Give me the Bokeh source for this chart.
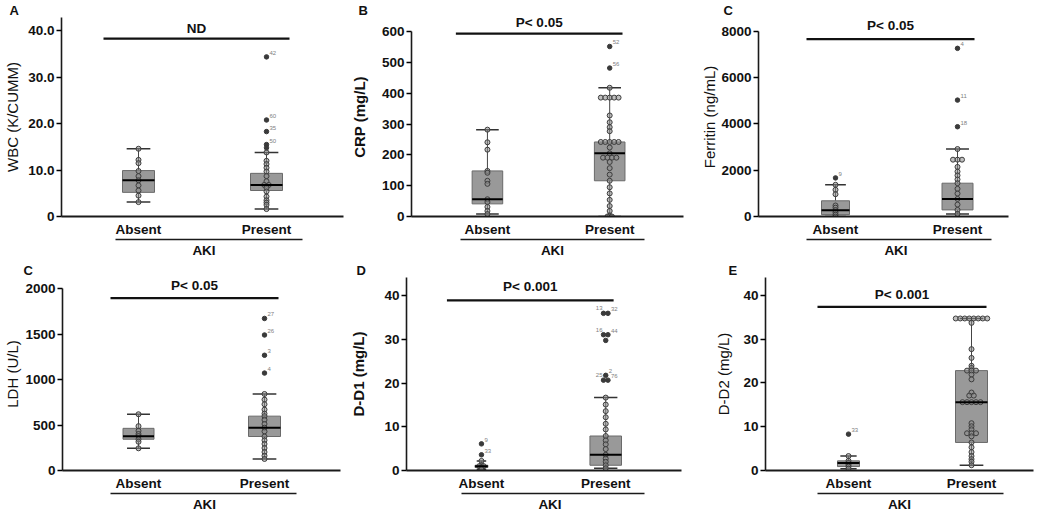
from bokeh.plotting import figure
from bokeh.layouts import row, column
from bokeh.models import Range1d, LinearAxis, FixedTicker, ColumnDataSource
from bokeh.core.properties import value
from bokeh.embed import file_html
from bokeh.resources import INLINE

# ---------------- data ----------------
categories = ["Absent", "Present"]
group_label = "AKI"

# A: WBC  (box = [whisker low, Q1, median, Q3, whisker high])
wbc_ticks = [0, 10, 20, 30, 40]
wbc_tick_labels = ["0", "10.0", "20.0", "30.0", "40.0"]
wbc_box_absent = [3.1, 5.2, 7.8, 9.9, 14.6]
wbc_box_present = [1.6, 5.6, 6.8, 9.3, 13.8]
wbc_pts_absent = [14.6, 12.2, 11.5, 9.8, 8.7, 7.8, 6.7, 5.6, 4.5, 3.1]
wbc_pts_present = [13.8, 12.0, 11.3, 10.5, 9.7, 8.7, 7.6, 6.8, 6.8, 6.2, 5.4, 4.3, 3.5, 3.0, 2.5, 1.6]
wbc_out_absent = []
wbc_ids_absent = []
wbc_out_present = [34.4, 20.8, 18.3, 15.5, 14.8]
wbc_ids_present = ["42", "60", "35", "50", ""]

# B: CRP
crp_ticks = [0, 100, 200, 300, 400, 500, 600]
crp_tick_labels = ["0", "100", "200", "300", "400", "500", "600"]
crp_box_absent = [8, 41, 56, 148, 282]
crp_box_present = [0, 116, 205, 242, 418]
crp_pts_absent = [282, 241, 217, 148, 142, 116, 106, 56, 47, 31, 18, 8]
crp_pts_present = [418, 386, 386, 386, 386, 386, 328, 306, 290, 277, 242, 242, 242, 242, 242,
                   224, 205, 191, 191, 191, 191, 177, 157, 136, 116, 95, 75, 54, 34, 18, 3, 0, 0]
crp_out_absent = []
crp_ids_absent = []
crp_out_present = [552, 482]
crp_ids_present = ["52", "56"]

# C: Ferritin
fer_ticks = [0, 2000, 4000, 6000, 8000]
fer_tick_labels = ["0", "2000", "4000", "6000", "8000"]
fer_box_absent = [0, 81, 272, 679, 1370]
fer_box_present = [110, 285, 760, 1439, 2915]
fer_pts_absent = [1370, 1154, 963, 476, 382, 272, 179, 81, 0]
fer_pts_present = [2915, 2455, 2455, 2455, 2142, 1939, 1776, 1600, 1439, 1195, 992, 760, 516, 285, 110]
fer_out_absent = [1667]
fer_ids_absent = ["9"]
fer_out_present = [7264, 5028, 3878]
fer_ids_present = ["4", "11", "18"]

# C (second): LDH
ldh_ticks = [0, 500, 1000, 1500, 2000]
ldh_tick_labels = ["0", "500", "1000", "1500", "2000"]
ldh_box_absent = [244, 344, 378, 464, 619]
ldh_box_present = [127, 374, 471, 598, 842]
ldh_pts_absent = [619, 488, 436, 402, 378, 344, 316, 244]
ldh_pts_present = [842, 780, 729, 670, 626, 598, 557, 512, 471, 430, 374, 333, 292, 247, 203, 162, 127]
ldh_out_absent = []
ldh_ids_absent = []
ldh_out_present = [1673, 1491, 1268, 1072]
ldh_ids_present = ["27", "26", "3", "4"]

# D: D-D1
dd1_ticks = [0, 10, 20, 30, 40]
dd1_tick_labels = ["0", "10", "20", "30", "40"]
dd1_box_absent = [0.3, 0.7, 1.0, 1.2, 2.2]
dd1_box_present = [0.5, 1.2, 3.6, 7.9, 16.7]
dd1_pts_absent = [2.2, 1.2, 1.0, 1.0, 0.7, 0.3]
dd1_pts_present = [16.7, 15.1, 13.6, 12.2, 10.7, 9.4, 7.9, 6.9, 6.0, 4.9, 3.6, 2.7, 2.0, 1.2, 0.5]
dd1_out_absent = [6.1, 3.6]
dd1_ids_absent = ["9", "33"]
dd1_out_present = [36.0, 36.0, 31.1, 31.1, 29.8, 21.8, 20.7, 20.7]
dd1_ids_present = ["13", "32", "16", "44", "", "2", "25", "76"]

# E: D-D2
dd2_ticks = [0, 10, 20, 30, 40]
dd2_tick_labels = ["0", "10", "20", "30", "40"]
dd2_box_absent = [0.4, 0.9, 1.7, 2.2, 3.3]
dd2_box_present = [1.2, 6.4, 15.6, 22.8, 34.7]
dd2_pts_absent = [3.3, 2.2, 1.7, 1.3, 0.9, 0.4]
dd2_pts_present = [34.7, 34.7, 34.7, 34.7, 34.7, 34.7, 34.7, 34.7, 33.7, 27.7, 25.7, 23.9, 23.4,
                   22.8, 22.8, 22.8, 21.9, 20.8, 17.8, 17.1, 17.1, 15.6, 15.6, 15.6, 15.6, 15.6,
                   10.8, 10.1, 9.4, 8.5, 8.5, 8.5, 7.8, 6.4, 5.3, 4.2, 3.3, 2.6, 2.0, 1.2]
dd2_out_absent = [8.3]
dd2_ids_absent = ["33"]
dd2_out_present = []
dd2_ids_present = []

# ---------------- layout / style (pixel geometry of each panel) ----------------
FONT = "Liberation Sans"
COL_W = [347, 347, 340]
COL_SHIFT = [0, 3, 6]        # reference px -> figure px offset for each column
ROW_H = [260, 254]
ROW_TOP_LOCAL = [16, 18]     # reference px mapped to the top of the frame
FRAME_TOP = 16
BOTTOM_BORDER = 42

layout_cfg = {
    "A":   dict(left=61, right=343, y0=224.0, ppu=4.85, top=5, xa=138, xp=266, s0=103, s1=289, sy=38, sty=28,
                u0=115, u1=302, lx=13, ys=4, bwa=32, bwp=32),
    "B":   dict(left=57, right=333, y0=226.0, ppu=0.325, top=31, xa=134, xp=258, s0=102, s1=271, sy=33, sty=21,
                u0=107, u1=293, lx=8, ys=11, bwa=31, bwp=31),
    "C":   dict(left=58, right=308, y0=228.0, ppu=0.02466, top=30.7, xa=135, xp=257, s0=106, s1=274, sy=39, sty=25,
                u0=106, u1=291, lx=27, ys=0, bwa=28, bwp=31),
    "C2":  dict(left=62, right=340, y0=224.0, ppu=0.097, top=30, xa=138, xp=264, s0=110, s1=278, sy=40, sty=27,
                u0=110, u1=296, lx=27, ys=1, bwa=31, bwp=32),
    "D":   dict(left=52, right=331, y0=220.7, ppu=4.585, top=13, xa=128, xp=254, s0=93, s1=262, sy=42, sty=27,
                u0=108, u1=293, lx=6, ys=14, bwa=13, bwp=32),
    "E":   dict(left=65, right=349, y0=221.0, ppu=4.608, top=15, xa=148, xp=271, s0=117, s1=286, sy=49, sty=36,
                u0=117, u1=303, lx=32, ys=8, bwa=22, bwp=32),
}


def swarm_offsets(vals, step):
    totals = {}
    for v in vals:
        totals[v] = totals.get(v, 0) + 1
    seen = {}
    out = []
    for v in vals:
        i = seen.get(v, 0)
        seen[v] = i + 1
        out.append((i - (totals[v] - 1) / 2.0) * step)
    return out


def make_panel(key, rw, col, letter, ylabel, ylabel_bold, ticks, tick_labels, sig_text,
               box_a, box_p, pts_a, pts_p, out_a, ids_a, out_p, ids_p):
    g = layout_cfg[key]
    sh = COL_SHIFT[col]
    W = COL_W[col]
    H = ROW_H[rw]
    ux = float(g["xp"] - g["xa"])

    def X(px):
        return 1 + (px - g["xa"]) / ux

    def Y(py):
        return (g["y0"] - py) / g["ppu"]

    x0 = X(g["left"])
    x1 = X(W - 1 - sh)
    p = figure(width=W, height=H, x_range=Range1d(x0, x1), y_range=Range1d(0, Y(ROW_TOP_LOCAL[rw])),
               output_backend="svg", toolbar_location=None,
               min_border_left=g["left"] + sh, min_border_right=1,
               min_border_top=FRAME_TOP, min_border_bottom=BOTTOM_BORDER)
    p.outline_line_color = None
    p.xgrid.visible = False
    p.ygrid.visible = False
    p.background_fill_color = "white"
    p.border_fill_color = "white"

    # panel letter as the figure title, pushed to the left of the frame
    p.title.text = letter
    p.title.align = "left"
    p.title.offset = g["lx"] - 4 - g["left"]
    p.title.standoff = 0
    p.title.text_font = FONT
    p.title.text_font_size = "13px"
    p.title.text_font_style = "bold"
    p.title.text_color = "#111111"

    # x axis with category names
    xa = p.xaxis[0]
    xa.ticker = FixedTicker(ticks=[1, 2])
    xa.major_label_overrides = {1: categories[0], 2: categories[1]}
    xa.bounds = (x0, X(min(g["right"], W - 1 - sh)))
    xa.axis_line_width = 2
    xa.axis_line_color = "#1a1a1a"
    xa.major_tick_out = 0
    xa.major_tick_in = 0
    xa.minor_tick_out = 0
    xa.minor_tick_in = 0
    xa.major_label_standoff = 5
    xa.major_label_text_font = FONT
    xa.major_label_text_font_size = "13.5px"
    xa.major_label_text_font_style = "bold"
    xa.major_label_text_color = "#111111"

    # group axis (underline + AKI)
    ax2 = LinearAxis(ticker=FixedTicker(ticks=[]), bounds=(X(g["u0"]), X(g["u1"])))
    ax2.axis_label = group_label
    ax2.axis_line_width = 1.6
    ax2.axis_line_color = "#1a1a1a"
    ax2.major_tick_out = 0
    ax2.major_tick_in = 0
    ax2.minor_tick_out = 0
    ax2.minor_tick_in = 0
    ax2.major_label_standoff = 0
    ax2.major_label_text_font_size = "0px"
    ax2.axis_label_standoff = 3
    ax2.axis_label_text_font = FONT
    ax2.axis_label_text_font_size = "13.5px"
    ax2.axis_label_text_font_style = "bold"
    ax2.axis_label_text_color = "#111111"
    p.add_layout(ax2, "below")

    # y axis
    ya = p.yaxis[0]
    ya.ticker = FixedTicker(ticks=ticks)
    ya.major_label_overrides = {t: l for t, l in zip(ticks, tick_labels)}
    ya.bounds = (0, Y(g["top"]))
    ya.axis_line_width = 1.6
    ya.axis_line_color = "#1a1a1a"
    ya.major_tick_out = 5
    ya.major_tick_in = 0
    ya.major_tick_line_width = 1.6
    ya.minor_tick_out = 0
    ya.minor_tick_in = 0
    ya.major_label_standoff = 2
    ya.major_label_text_font = FONT
    ya.major_label_text_font_size = "13.5px"
    ya.major_label_text_font_style = "bold"
    ya.major_label_text_color = "#111111"
    ya.axis_label = ylabel
    ya.axis_label_standoff = g["ys"]
    ya.axis_label_text_font = FONT
    ya.axis_label_text_font_size = "15px"
    ya.axis_label_text_font_style = "bold" if ylabel_bold else "normal"
    ya.axis_label_text_color = "#111111"

    # significance bar
    p.segment(x0=[X(g["s0"])], x1=[X(g["s1"])], y0=[Y(g["sy"])], y1=[Y(g["sy"])],
              line_color="#111111", line_width=2.2)
    p.text(x=[X((g["s0"] + g["s1"]) / 2.0)], y=[Y(g["sty"])], text=[sig_text],
           text_align="center", text_baseline="middle", text_font=value(FONT),
           text_font_size="13.5px", text_font_style="bold", text_color="#111111")

    # boxes
    boxes = [box_a, box_p]
    widths = [g["bwa"] / ux, g["bwp"] / ux]
    xs = [1, 2]
    src = ColumnDataSource(dict(
        x=xs, w=widths,
        lo=[b[0] for b in boxes], q1=[b[1] for b in boxes], med=[b[2] for b in boxes],
        q3=[b[3] for b in boxes], hi=[b[4] for b in boxes],
        xl=[x - w / 2 for x, w in zip(xs, widths)], xr=[x + w / 2 for x, w in zip(xs, widths)],
        cl=[x - 0.37 * w for x, w in zip(xs, widths)], cr=[x + 0.37 * w for x, w in zip(xs, widths)],
    ))
    p.segment(x0="x", x1="x", y0="lo", y1="q1", source=src, line_color="#444444", line_width=1)
    p.segment(x0="x", x1="x", y0="q3", y1="hi", source=src, line_color="#444444", line_width=1)
    p.segment(x0="cl", x1="cr", y0="hi", y1="hi", source=src, line_color="#333333", line_width=1.5)
    p.segment(x0="cl", x1="cr", y0="lo", y1="lo", source=src, line_color="#333333", line_width=1.5)
    p.vbar(x="x", width="w", bottom="q1", top="q3", source=src, fill_color="#999999",
           fill_alpha=1.0, line_color="#6a6a6a", line_width=1)

    # points
    step = 4.5 / ux
    for xc, pts in ((1, pts_a), (2, pts_p)):
        if pts:
            offs = swarm_offsets(pts, step)
            p.scatter(x=[xc + o for o in offs], y=pts, marker="circle", size=5,
                      fill_color="#8a8a8a", fill_alpha=0.55, line_color="#3d3d3d", line_width=1)
    p.segment(x0="xl", x1="xr", y0="med", y1="med", source=src, line_color="#000000", line_width=2)

    # outliers with case ids (ids of the left one of a pair go to its upper left)
    for xc, outs, ids in ((1, out_a, ids_a), (2, out_p, ids_p)):
        if outs:
            offs = swarm_offsets(outs, step)
            ox = [xc + o for o in offs]
            p.scatter(x=ox, y=outs, marker="circle", size=4.5, fill_color="#3a3a3a",
                      line_color="#3a3a3a")
            right = [i for i, o in enumerate(offs) if o >= 0]
            left = [i for i, o in enumerate(offs) if o < 0]
            if right:
                p.text(x=[ox[i] for i in right], y=[outs[i] for i in right], text=[ids[i] for i in right],
                       x_offset=3, y_offset=-2, text_align="left", text_baseline="bottom",
                       text_font=value(FONT), text_font_size="6px", text_color="#808080")
            if left:
                p.text(x=[ox[i] for i in left], y=[outs[i] for i in left], text=[ids[i] for i in left],
                       x_offset=-1, y_offset=-3, text_align="right", text_baseline="bottom",
                       text_font=value(FONT), text_font_size="6px", text_color="#808080")
    return p


pA = make_panel("A", 0, 0, "A", "WBC (K/CUMM)", False, wbc_ticks, wbc_tick_labels, "ND",
                wbc_box_absent, wbc_box_present, wbc_pts_absent, wbc_pts_present,
                wbc_out_absent, wbc_ids_absent, wbc_out_present, wbc_ids_present)
pB = make_panel("B", 0, 1, "B", "CRP (mg/L)", True, crp_ticks, crp_tick_labels, "P< 0.05",
                crp_box_absent, crp_box_present, crp_pts_absent, crp_pts_present,
                crp_out_absent, crp_ids_absent, crp_out_present, crp_ids_present)
pC = make_panel("C", 0, 2, "C", "Ferritin (ng/mL)", False, fer_ticks, fer_tick_labels, "P< 0.05",
                fer_box_absent, fer_box_present, fer_pts_absent, fer_pts_present,
                fer_out_absent, fer_ids_absent, fer_out_present, fer_ids_present)
pL = make_panel("C2", 1, 0, "C", "LDH (U/L)", False, ldh_ticks, ldh_tick_labels, "P< 0.05",
                ldh_box_absent, ldh_box_present, ldh_pts_absent, ldh_pts_present,
                ldh_out_absent, ldh_ids_absent, ldh_out_present, ldh_ids_present)
pD = make_panel("D", 1, 1, "D", "D-D1 (mg/L)", True, dd1_ticks, dd1_tick_labels, "P< 0.001",
                dd1_box_absent, dd1_box_present, dd1_pts_absent, dd1_pts_present,
                dd1_out_absent, dd1_ids_absent, dd1_out_present, dd1_ids_present)
pE = make_panel("E", 1, 2, "E", "D-D2 (mg/L)", False, dd2_ticks, dd2_tick_labels, "P< 0.001",
                dd2_box_absent, dd2_box_present, dd2_pts_absent, dd2_pts_present,
                dd2_out_absent, dd2_ids_absent, dd2_out_present, dd2_ids_present)

layout = column(row(pA, pB, pC), row(pL, pD, pE))
open("out.html", "w").write(file_html(layout, INLINE))
